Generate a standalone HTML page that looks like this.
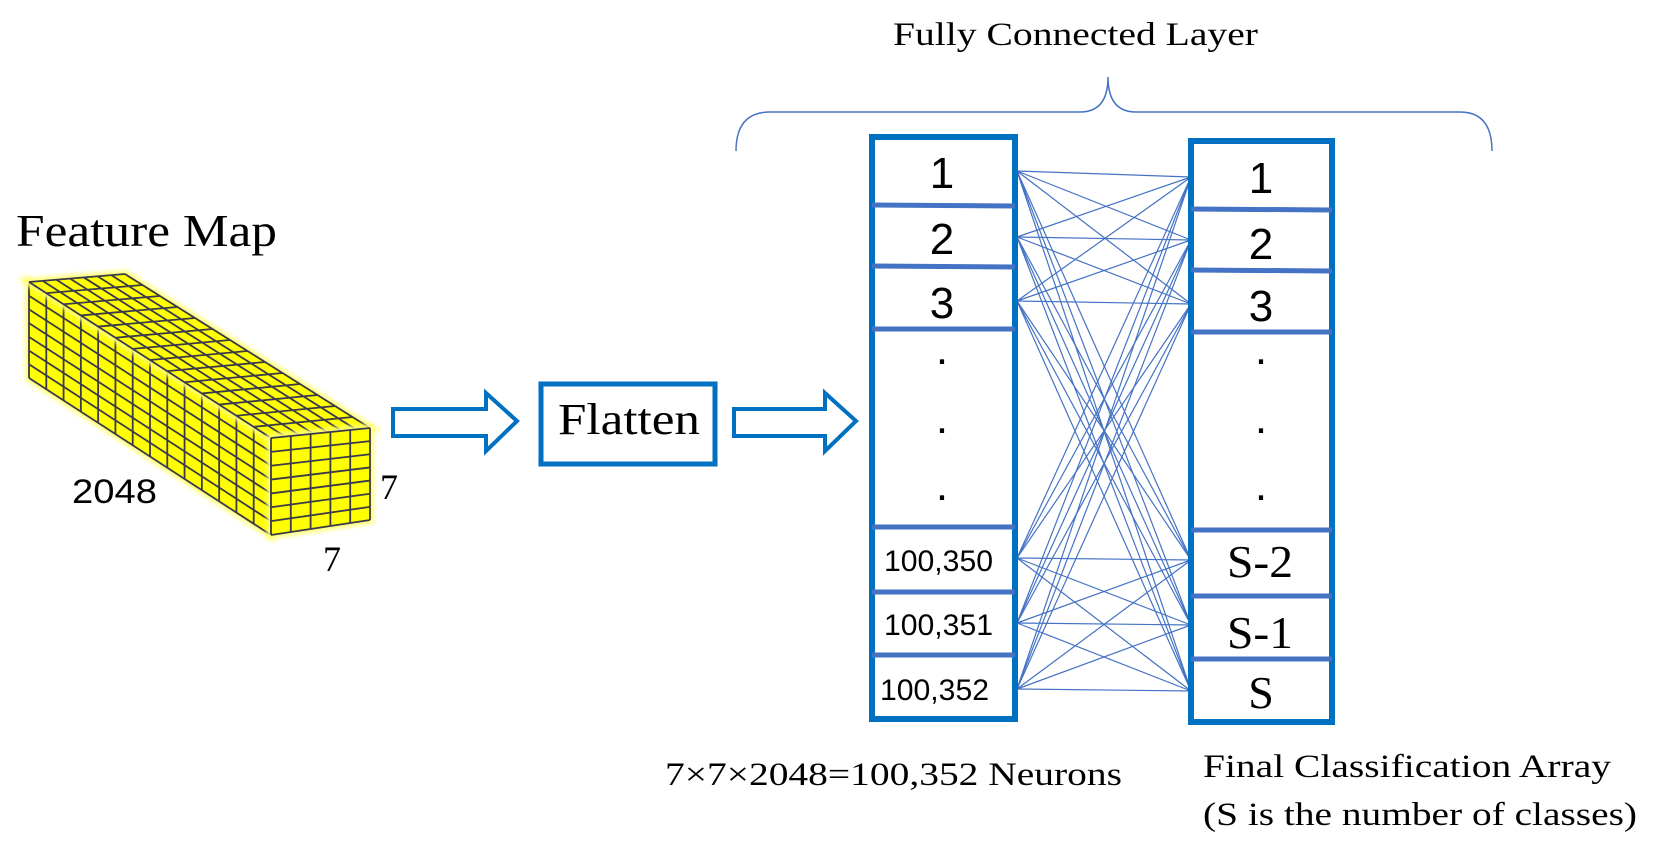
<!DOCTYPE html>
<html><head><meta charset="utf-8"><style>
html,body{margin:0;padding:0;background:#fff;}
svg{display:block;}
.serif{font-family:"Liberation Serif",serif;}
.sans{font-family:"Liberation Sans",sans-serif;}
</style></head><body>
<svg id="s" width="1659" height="846" viewBox="0 0 1659 846" xmlns="http://www.w3.org/2000/svg">
<defs><filter id="glow" x="-10%" y="-10%" width="120%" height="120%"><feGaussianBlur stdDeviation="2"/></filter></defs>
<g id="cube"></g>
<text x="16" y="246" class="serif" font-size="46" textLength="261" lengthAdjust="spacingAndGlyphs">Feature Map</text>
<text x="72" y="503" class="sans" font-size="34" textLength="85" lengthAdjust="spacingAndGlyphs">2048</text>
<text x="380" y="499" class="serif" font-size="36">7</text>
<text x="323" y="571" class="serif" font-size="36">7</text>

<polygon points="393,409 486,409 486,393 517,421 486,451 486,436 393,436" fill="#fff" stroke="#0070C0" stroke-width="4"/>
<polygon points="734,409 825,409 825,393 856,421 825,451 825,436 734,436" fill="#fff" stroke="#0070C0" stroke-width="4"/>

<rect x="541" y="384" width="174" height="80" fill="#fff" stroke="#0070C0" stroke-width="5"/>
<text x="558" y="434" class="serif" font-size="44" textLength="142" lengthAdjust="spacingAndGlyphs">Flatten</text>

<path d="M736,151 Q736,112 770,112 L1080,112 Q1108,112 1108,77 Q1108,112 1136,112 L1460,112 Q1492,112 1492,151" fill="none" stroke="#4472C4" stroke-width="1.5"/>
<text x="893" y="45" class="serif" font-size="33" textLength="365" lengthAdjust="spacingAndGlyphs">Fully Connected Layer</text>

<g id="lines" stroke="#4472C4" stroke-width="1.2"></g>

<g transform="translate(-5,-2)">
<rect x="877" y="139" width="143" height="582" fill="none" stroke="#0070C0" stroke-width="6"/>
<g stroke="#4472C4" stroke-width="5">
<line x1="877" y1="207" x2="1020" y2="208"/><line x1="877" y1="268" x2="1020" y2="269"/>
<line x1="877" y1="331" x2="1020" y2="331"/><line x1="877" y1="529" x2="1020" y2="529"/>
<line x1="877" y1="594" x2="1020" y2="594"/><line x1="877" y1="657" x2="1020" y2="657"/>
</g>
<g class="sans" text-anchor="middle" font-size="44">
<text x="947" y="190">1</text><text x="947" y="256">2</text><text x="947" y="320">3</text>
<text x="947" y="366">.</text><text x="947" y="435">.</text><text x="947" y="502">.</text>
</g>
<g class="sans" font-size="30">
<text x="889" y="573" textLength="109" lengthAdjust="spacingAndGlyphs">100,350</text>
<text x="889" y="637" textLength="109" lengthAdjust="spacingAndGlyphs">100,351</text>
<text x="885" y="702" textLength="109" lengthAdjust="spacingAndGlyphs">100,352</text>
</g>
</g>

<g transform="translate(-7,-2)">
<rect x="1198" y="143" width="141" height="581" fill="none" stroke="#0070C0" stroke-width="6"/>
<g stroke="#4472C4" stroke-width="5">
<line x1="1198" y1="211" x2="1339" y2="212"/><line x1="1198" y1="272" x2="1339" y2="273"/>
<line x1="1198" y1="334" x2="1339" y2="334"/><line x1="1198" y1="532" x2="1339" y2="532"/>
<line x1="1198" y1="598" x2="1339" y2="598"/><line x1="1198" y1="661" x2="1339" y2="661"/>
</g>
<g class="sans" text-anchor="middle" font-size="44">
<text x="1268" y="195">1</text><text x="1268" y="261">2</text><text x="1268" y="323">3</text>
<text x="1268" y="366">.</text><text x="1268" y="435">.</text><text x="1268" y="502">.</text>
</g>
<g class="serif" font-size="46">
<text x="1234" y="579" textLength="66" lengthAdjust="spacingAndGlyphs">S-2</text>
<text x="1234" y="650" textLength="66" lengthAdjust="spacingAndGlyphs">S-1</text>
<text x="1268" y="710" text-anchor="middle">S</text>
</g>
</g>

<text x="665" y="785" class="serif" font-size="33" textLength="457" lengthAdjust="spacingAndGlyphs">7×7×2048=100,352 Neurons</text>
<text x="1203" y="777" class="serif" font-size="33" textLength="408" lengthAdjust="spacingAndGlyphs">Final Classification Array</text>
<text x="1203" y="825" class="serif" font-size="33" textLength="434" lengthAdjust="spacingAndGlyphs">(S is the number of classes)</text>
</svg>
<script>
var NS="http://www.w3.org/2000/svg";
function el(p,t,a){var e=document.createElementNS(NS,t);for(var k in a)e.setAttribute(k,a[k]);p.appendChild(e);return e;}
var L=document.getElementById("lines");
var ly=[171,237,301,558,623,689], ry=[177,240,304,560,625,691];
ly.forEach(function(a){ry.forEach(function(b){el(L,"line",{x1:1017,y1:a,x2:1191,y2:b});});});
var C=document.getElementById("cube");
var A=[29,282],B=[125,274],Cc=[271,438],D=[370,428],E=[271,535],F=[370,520],G=[29,378];
function lerp(p,q,t){return [p[0]+(q[0]-p[0])*t,p[1]+(q[1]-p[1])*t];}
function face(p1,p2,p3,p4,nu,nv){
 var pts=[p1,p2,p3,p4].map(function(p){return p.join(",")}).join(" ");
 el(C,"polygon",{points:pts,fill:"#ffff60",stroke:"#ffff80","stroke-width":8,filter:"url(#glow)"});
 el(C,"polygon",{points:pts,fill:"#ffff00"});
 for(var i=0;i<=nu;i++){var a=lerp(p1,p2,i/nu),b=lerp(p4,p3,i/nu);el(C,"line",{x1:a[0],y1:a[1],x2:b[0],y2:b[1],stroke:"#3a3a4a","stroke-width":1.8});}
 for(var j=0;j<=nv;j++){var a=lerp(p1,p4,j/nv),b=lerp(p2,p3,j/nv);el(C,"line",{x1:a[0],y1:a[1],x2:b[0],y2:b[1],stroke:"#3a3a4a","stroke-width":1.8});}
}
face(A,Cc,E,G,14,7);
face(A,B,D,Cc,7,14);
face(Cc,D,F,E,5,7);
</script>
</body></html>
